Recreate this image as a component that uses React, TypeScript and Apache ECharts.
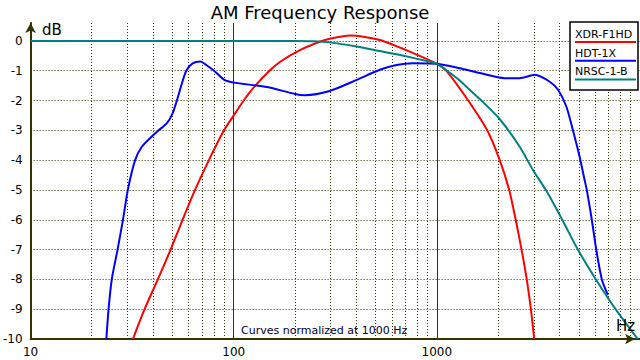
import React, { useEffect, useRef } from "react";
import * as echarts from "echarts";

// XDR-F1HD (red)
const xdrFreq = [31.9, 36.4, 42.3, 48.9, 56, 64.5, 75.5, 89.5, 100, 112, 127, 150, 170, 213, 267, 297, 373, 524, 764, 1000, 1112, 1426, 1769, 2039, 2270, 2444, 2611, 2770, 2903, 3015];
const xdrDb = [-10, -9, -8, -7, -6, -5, -4, -3, -2.5, -2.0, -1.52, -1.0, -0.69, -0.3, -0.02, 0.07, 0.18, 0.03, -0.41, -0.77, -1.0, -2.0, -3.0, -4.0, -5.0, -6.0, -7.0, -8.0, -9.0, -10];

// HDT-1X (blue)
const hdtFreq = [23.6, 24.2, 25.1, 26.8, 28.5, 30.1, 32.7, 35.3, 39.5, 42.7, 46.9, 50, 52.5, 55.6, 58.4, 62.5, 68.4, 75, 80, 90, 100, 146, 200, 224, 297, 403, 524, 633, 762, 1000, 1297, 1627, 2158, 2557, 3033, 3593, 3949, 4338, 4672, 5040, 5333, 5470, 5790, 6090, 6490, 6950];
const hdtDb = [-10, -9, -8, -7, -6, -5, -4, -3.55, -3.21, -3.0, -2.76, -2.43, -2.0, -1.42, -1.0, -0.76, -0.69, -0.86, -1.0, -1.31, -1.4, -1.55, -1.78, -1.82, -1.68, -1.31, -0.97, -0.81, -0.75, -0.77, -0.92, -1.08, -1.25, -1.25, -1.14, -1.37, -1.64, -2.2, -2.99, -3.88, -4.66, -5.0, -6.0, -7.0, -8.0, -8.52];

// NRSC-1-B (teal)
const nrscFreq = [10, 100, 200, 250, 297, 403, 524, 633, 764, 870, 1000, 1150, 1297, 1450, 1627, 2037, 2557, 2972, 3459, 4142, 4943, 6090, 7640, 9750];
const nrscDb = [0, 0, 0, -0.01, -0.05, -0.19, -0.34, -0.45, -0.57, -0.66, -0.77, -1.05, -1.33, -1.64, -1.95, -2.62, -3.55, -4.33, -5.03, -6.0, -7.0, -8.02, -9.03, -10];

const minorFreqs = [20, 30, 40, 50, 60, 70, 80, 90, 200, 300, 400, 500, 600, 700, 800, 900, 2000, 3000, 4000, 5000, 6000, 7000, 8000, 9000];

const seriesNames = ["XDR-F1HD", "HDT-1X", "NRSC-1-B"];
const seriesColors = ["#ff0000", "#0000ff", "#008080"];

const FONT = "DejaVu Sans";
const AXIS_COLOR = "#333300";

function zip(a: number[], b: number[]) {
  return a.map((v, i) => [v, b[i]]);
}

export default function App() {
  const ref = useRef<HTMLDivElement>(null);
  useEffect(() => {
    if (!ref.current) return;
    const chart = echarts.init(ref.current, null, { renderer: "svg" });
    const datasets = [zip(xdrFreq, xdrDb), zip(hdtFreq, hdtDb), zip(nrscFreq, nrscDb)];
    const legendItems: any[] = [
      {
        type: "rect",
        shape: { x: 570, y: 22, width: 68, height: 68 },
        style: { fill: "#fff", stroke: "#000", lineWidth: 1.5 },
        z: 100,
      },
    ];
    seriesNames.forEach((n, i) => {
      const ty = 34.5 + i * 18.7;
      legendItems.push({
        type: "text",
        x: 575,
        y: ty,
        style: { text: n, fill: "#000", font: `11px '${FONT}'`, verticalAlign: "middle", align: "left" },
        z: 101,
      });
      legendItems.push({
        type: "line",
        shape: { x1: 575, y1: ty + 7.5, x2: 636, y2: ty + 7.5 },
        style: { stroke: seriesColors[i], lineWidth: 2 },
        z: 101,
      });
    });
    chart.setOption({
      animation: false,
      backgroundColor: "#fff",
      textStyle: { fontFamily: FONT },
      title: {
        text: "AM Frequency Response",
        left: "center",
        top: 3,
        padding: 0,
        textStyle: { fontFamily: FONT, fontSize: 18, fontWeight: "normal", color: "#000" },
      },
      grid: { left: 30, right: 0, top: 23, bottom: 21, containLabel: false },
      xAxis: {
        type: "log",
        logBase: 10,
        min: 10,
        max: 10000,
        axisLine: {
          show: true,
          onZero: false,
          lineStyle: { color: AXIS_COLOR, width: 2 },
          symbol: ["none", "arrow"],
          symbolSize: [8, 10],
          symbolOffset: [0, -5],
        },
        axisTick: { show: false },
        axisLabel: {
          color: "#000",
          fontFamily: FONT,
          fontSize: 12,
          margin: 7,
          showMaxLabel: false,
          formatter: (v: number) => (v >= 10000 ? "" : String(v)),
        },
        splitLine: { show: true, showMaxLine: false, lineStyle: { color: AXIS_COLOR, width: 1, type: "solid" } },
      },
      yAxis: {
        type: "value",
        min: -10,
        max: 0.6,
        interval: 1,
        axisLine: {
          show: true,
          onZero: false,
          lineStyle: { color: AXIS_COLOR, width: 2 },
          symbol: ["none", "arrow"],
          symbolSize: [8, 10],
        },
        axisTick: { show: false },
        axisLabel: {
          color: "#000",
          fontFamily: FONT,
          fontSize: 12,
          margin: 8,
          formatter: (v: number) => (Number.isInteger(v) ? String(v) : ""),
        },
        splitLine: {
          show: true,
          showMaxLine: false,
          showMinLine: false,
          lineStyle: { color: AXIS_COLOR, width: 1, type: [1, 2] },
        },
      },
      graphic: [
        {
          type: "text",
          x: 42,
          y: 30,
          style: { text: "dB", fill: "#000", font: `15px '${FONT}'`, verticalAlign: "middle" },
          z: 50,
        },
        {
          type: "text",
          x: 616,
          y: 326,
          style: { text: "Hz", fill: "#000", font: `15px '${FONT}'`, verticalAlign: "middle" },
          z: 50,
        },
        {
          type: "text",
          x: 241,
          y: 330,
          style: { text: "Curves normalized at 1000 Hz", fill: "#000033", font: `11px '${FONT}'`, verticalAlign: "middle" },
          z: 50,
        },
        ...legendItems,
      ],
      series: [
        {
          type: "line",
          data: [],
          silent: true,
          markLine: {
            silent: true,
            z: 1,
            symbol: ["none", "none"],
            label: { show: false },
            lineStyle: { color: AXIS_COLOR, width: 1, type: [1, 2] },
            data: minorFreqs.map((f) => ({ xAxis: f })),
          },
        },
        ...seriesNames.map((n, i) => ({
          name: n,
          type: "line",
          data: datasets[i],
          showSymbol: false,
          symbol: "none",
          smooth: 0.25,
          clip: true,
          lineStyle: { color: seriesColors[i], width: 2 },
          itemStyle: { color: seriesColors[i] },
          z: 3,
        })),
      ],
    });
    return () => chart.dispose();
  }, []);
  return <div ref={ref} style={{ width: 640, height: 360, position: "fixed", left: 0, top: 0 }} />;
}
